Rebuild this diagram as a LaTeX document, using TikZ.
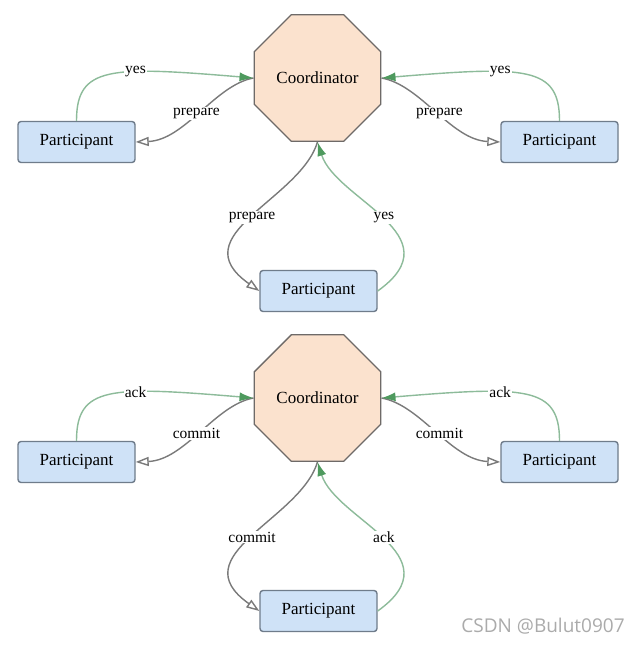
\documentclass[tikz,border=0pt]{standalone}
\usepackage{fontspec}
\setmainfont{Liberation Serif}
\newfontfamily\diagfont{Liberation Serif}
\newfontfamily\markfont{Open Sans}
\usepackage{xcolor}
\usepackage{tikz}
\usetikzlibrary{shapes.geometric, arrows.meta}

\definecolor{partfill}{HTML}{CFE2F7}
\definecolor{partline}{HTML}{6F7C8B}
\definecolor{coordfill}{HTML}{FBE2CE}
\definecolor{coordline}{HTML}{6E6A68}
\definecolor{yesline}{HTML}{8DBB9A}
\definecolor{yestip}{HTML}{4E9A5E}
\definecolor{askline}{HTML}{7A7A7A}

\begin{document}
\begin{tikzpicture}[x=1pt, y=-1pt,
        partbox/.style={draw=partline, line width=1.4pt, fill=partfill, rounded corners=3pt, minimum width=117pt, minimum height=41pt, font=\diagfont\fontsize{17}{20}\selectfont},
        coordbox/.style={draw=coordline, line width=1.4pt, fill=coordfill, regular polygon, regular polygon sides=8, inner sep=0pt, minimum size=137pt, font=\diagfont\fontsize{17}{20}\selectfont},
        ask/.style={draw=askline, line width=1.4pt, -{Triangle[open, length=13pt, width=9pt, fill=white]}},
        reply/.style={draw=yesline, line width=1.4pt, -{Latex[length=14pt, width=9pt, color=yestip]}},
        lbl/.style={fill=white, inner sep=1pt, font=\diagfont\fontsize{15.5}{18}\selectfont}]
        \fill[white] (0,0) rectangle (640,645);
        \useasboundingbox (0,0) rectangle (640,645);

        % Phase 1: prepare
        \node[coordbox] (coord1) at (317.5,78) {Coordinator};
        \node[partbox] (left1) at (76.5,142) {Participant};
        \node[partbox] (right1) at (559.5,142) {Participant};
        \node[partbox] (down1) at (318.5,291) {Participant};

        \draw[ask] (coord1.west) .. controls (215,85) and (185,140) .. node[lbl, pos=0.52] {prepare} (left1.east);
        \draw[reply] (left1.north) .. controls (76.5,66) and (110,66) .. node[lbl, pos=0.63] {yes} (coord1.west);
        \draw[ask] (coord1.east) .. controls (421,85) and (451,140) .. node[lbl, pos=0.52] {prepare} (right1.west);
        \draw[reply] (right1.north) .. controls (559.5,66) and (526,66) .. node[lbl, pos=0.63] {yes} (coord1.east);
        \draw[ask] (coord1.south) .. controls (300,200) and (180,235) .. node[lbl] {prepare} (down1.west);
        \draw[reply] (down1.east) .. controls (456,235) and (336,200) .. node[lbl] {yes} (coord1.south);

        % Phase 2: commit
        \node[coordbox] (coord2) at (317.5,398) {Coordinator};
        \node[partbox] (left2) at (76.5,462) {Participant};
        \node[partbox] (right2) at (559.5,462) {Participant};
        \node[partbox] (down2) at (318.5,611) {Participant};

        \draw[ask] (coord2.west) .. controls (215,405) and (185,460) .. node[lbl, pos=0.52] {commit} (left2.east);
        \draw[reply] (left2.north) .. controls (76.5,386) and (110,386) .. node[lbl, pos=0.63] {ack} (coord2.west);
        \draw[ask] (coord2.east) .. controls (421,405) and (451,460) .. node[lbl, pos=0.52] {commit} (right2.west);
        \draw[reply] (right2.north) .. controls (559.5,386) and (526,386) .. node[lbl, pos=0.63] {ack} (coord2.east);
        \draw[ask] (coord2.south) .. controls (300,520) and (180,555) .. node[lbl] {commit} (down2.west);
        \draw[reply] (down2.east) .. controls (456,555) and (336,520) .. node[lbl] {ack} (coord2.south);

        % watermark
        \node[font=\markfont\fontsize{19}{22}\selectfont, text=black!33] (mark) at (543,626) {CSDN @Bulut0907};
    \end{tikzpicture}
\end{document}
